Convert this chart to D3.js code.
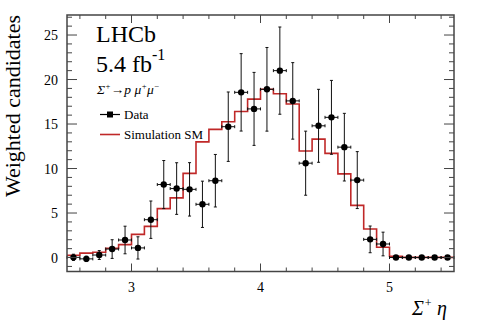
<!DOCTYPE html>
<html><head><meta charset="utf-8">
<script src="https://cdn.jsdelivr.net/npm/d3@7"></script>
<style>body{margin:0;background:#fff}svg{display:block}text{font-family:"Liberation Serif","Times New Roman",serif;fill:#000}</style>
</head><body>
<svg id="c" width="478" height="324"></svg>
<script>
// Bin centres of Σ+ η (bin width 0.1)
const etaCenters = [2.55,2.65,2.75,2.85,2.95,3.05,3.15,3.25,3.35,3.45,3.55,3.65,3.75,3.85,3.95,4.05,4.15,4.25,4.35,4.45,4.55,4.65,4.75,4.85,4.95,5.05,5.15,5.25,5.35,5.45];
const binHalfWidth = 0.05;
// Data (weighted candidates) and uncertainties
const dataValues = [0.02,-0.15,0.28,0.95,1.97,1.08,4.25,8.2,7.75,7.66,5.98,8.63,14.7,18.56,16.7,18.9,21.0,17.6,10.6,14.8,15.75,12.4,8.7,2.04,1.52,0,0,0,0,0];
const dataErrors = [0.35,0.3,0.5,1.05,1.55,1.25,2.1,2.7,2.9,3.0,2.6,2.95,3.9,4.35,4.1,4.7,4.9,4.3,3.6,4.1,4.15,3.8,3.2,1.5,1.33,0,0,0,0,0];
// Simulation SM histogram
const simValues = [0.25,0.5,0.6,1.05,1.45,2.6,3.5,5.5,6.7,9.45,13.0,14.4,15.26,16.4,17.8,18.9,18.4,17.25,11.97,13.3,11.7,9.4,5.86,3.2,1.15,0.15,0.02,0.02,0.02,0.02];
const xTickValues = [3,4,5];
const yTickValues = [0,5,10,15,20,25];
const xDomain = [2.5,5.5];
const yDomain = [-1.57,27.25];

const svg = d3.select("#c");
const L=67,R=454,T=15,B=271.5;
const x = d3.scaleLinear().domain(xDomain).range([L,R]);
const y = d3.scaleLinear().domain(yDomain).range([B,T]);

// simulation histogram
const pts = etaCenters.map((c,i)=>[c-binHalfWidth, simValues[i]]);
pts.push([etaCenters[etaCenters.length-1]+binHalfWidth, simValues[simValues.length-1]]);
svg.append("path").attr("d", d3.line().x(d=>x(d[0])).y(d=>y(d[1])).curve(d3.curveStepAfter)(pts))
  .attr("fill","none").attr("stroke","#c02828").attr("stroke-width",1.6);

// data points
const g = svg.append("g").attr("stroke","#111").attr("stroke-width",1);
etaCenters.forEach((c,i)=>{
  const cx=x(c), cy=y(dataValues[i]);
  const x0=x(c-binHalfWidth), x1=x(c+binHalfWidth);
  g.append("line").attr("x1",x0).attr("x2",x1).attr("y1",cy).attr("y2",cy);
  g.append("line").attr("x1",x0).attr("x2",x0).attr("y1",cy-1.5).attr("y2",cy+1.5);
  g.append("line").attr("x1",x1).attr("x2",x1).attr("y1",cy-1.5).attr("y2",cy+1.5);
  if(dataErrors[i]>0){
    const ya=y(dataValues[i]+dataErrors[i]), yb=y(dataValues[i]-dataErrors[i]);
    g.append("line").attr("x1",cx).attr("x2",cx).attr("y1",ya).attr("y2",yb);
    g.append("line").attr("x1",cx-1.5).attr("x2",cx+1.5).attr("y1",ya).attr("y2",ya);
    g.append("line").attr("x1",cx-1.5).attr("x2",cx+1.5).attr("y1",yb).attr("y2",yb);
  }
  svg.append("circle").attr("cx",cx).attr("cy",cy).attr("r",3.2).attr("fill","#000");
});

// frame & ticks
svg.append("rect").attr("x",L).attr("y",T).attr("width",R-L).attr("height",B-T)
  .attr("fill","none").attr("stroke","#444").attr("stroke-width",1.5);
const tk = svg.append("g").attr("stroke","#444").attr("stroke-width",1);
x.ticks(15).forEach(v=>{
  const major = xTickValues.includes(v);
  const len = major?8:4;
  tk.append("line").attr("x1",x(v)).attr("x2",x(v)).attr("y1",B).attr("y2",B-len);
  tk.append("line").attr("x1",x(v)).attr("x2",x(v)).attr("y1",T).attr("y2",T+len);
});
d3.range(-1,28).forEach(v=>{
  const major = yTickValues.includes(v);
  const len = major?10:5;
  if(y(v)>B||y(v)<T) return;
  tk.append("line").attr("y1",y(v)).attr("y2",y(v)).attr("x1",L).attr("x2",L+len);
  tk.append("line").attr("y1",y(v)).attr("y2",y(v)).attr("x1",R).attr("x2",R-len);
});
xTickValues.forEach(v=>svg.append("text").attr("x",x(v)).attr("y",292).attr("text-anchor","middle").attr("font-size",14).text(v));
yTickValues.forEach(v=>svg.append("text").attr("x",58).attr("y",y(v)+5).attr("text-anchor","end").attr("font-size",14).text(v));

// axis titles
svg.append("text").attr("transform","translate(20,15) rotate(-90)").attr("text-anchor","end").attr("font-size",22).text("Weighted candidates");
const xt = svg.append("text").attr("x",447).attr("y",315).attr("text-anchor","end").attr("font-size",20).attr("font-style","italic");
xt.append("tspan").text("Σ");
xt.append("tspan").attr("dy",-8).attr("font-size",12).text("+");
xt.append("tspan").attr("dy",8).text("  η");

// LHCb label
svg.append("text").attr("x",96).attr("y",42).attr("font-size",24).text("LHCb");
const lum = svg.append("text").attr("x",96).attr("y",72).attr("font-size",24);
lum.append("tspan").text("5.4 fb");
lum.append("tspan").attr("dy",-12).attr("font-size",16).text("-1");

// decay
const dec = svg.append("text").attr("x",97).attr("y",94).attr("font-size",13.5).attr("font-style","italic");
dec.append("tspan").text("Σ");
dec.append("tspan").attr("dy",-5).attr("font-size",8.5).text("+");
dec.append("tspan").attr("dy",5).text("→p ");
dec.append("tspan").text("μ");
dec.append("tspan").attr("dy",-5).attr("font-size",8.5).text("+");
dec.append("tspan").attr("dy",5).text("μ");
dec.append("tspan").attr("dy",-5).attr("font-size",8.5).text("−");

// legend
svg.append("line").attr("x1",100).attr("x2",120).attr("y1",114.5).attr("y2",114.5).attr("stroke","#000").attr("stroke-width",1.2);
svg.append("rect").attr("x",107).attr("y",111.5).attr("width",6).attr("height",6).attr("fill","#000");
svg.append("text").attr("x",124).attr("y",119).attr("font-size",13).text("Data");
svg.append("line").attr("x1",100).attr("x2",120).attr("y1",134.5).attr("y2",134.5).attr("stroke","#c02828").attr("stroke-width",1.6);
svg.append("text").attr("x",124).attr("y",139).attr("font-size",13).text("Simulation SM");
</script>
</body></html>
